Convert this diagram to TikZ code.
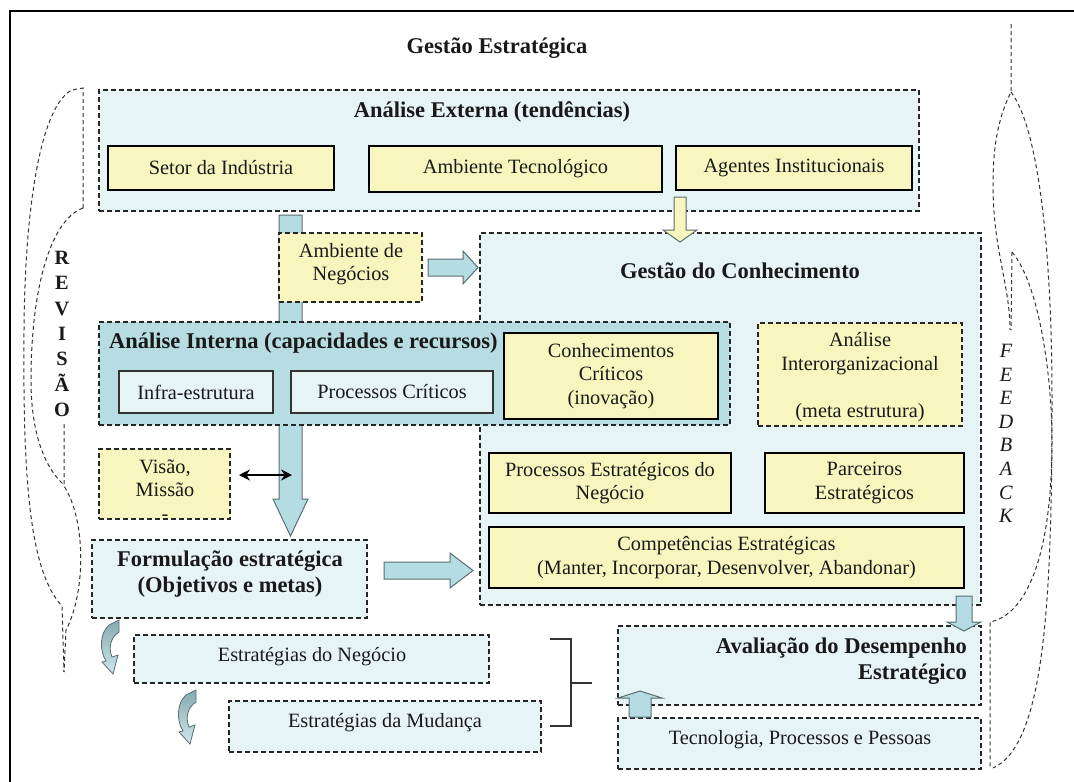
\documentclass[tikz,border=0pt]{standalone}
\usepackage{fontspec}
\setmainfont{Liberation Serif}
\usetikzlibrary{arrows.meta}
\definecolor{cyanL}{HTML}{E7F4F6}
\definecolor{cyanD}{HTML}{B7DDE3}
\definecolor{ylw}{HTML}{F8F6BE}
\definecolor{arrf}{HTML}{B5DCE2}
\definecolor{arrd}{HTML}{5A6E72}
\definecolor{cvT}{HTML}{86A9B0}
\definecolor{cvB}{HTML}{CDE8EC}
\newcommand\myfs{\fontsize{20.3}{23.5}\selectfont}
\newcommand\myfb{\fontsize{22.5}{26}\selectfont\bfseries}
\tikzset{
  every node/.style={inner sep=0pt, align=center, font=\myfs, text=black!90},
  dsh/.style={dash pattern=on 5pt off 3pt, line width=1.1pt},
  lbox/.style={dsh, draw=black!85, fill=cyanL},
  dbox/.style={dsh, draw=black!85, fill=cyanD},
  ybox/.style={dsh, draw=black!85, fill=ylw},
  sbox/.style={draw=black, line width=2.4pt, fill=ylw},
  gbox/.style={draw=black!80, line width=1.2pt, fill=cyanL},
  barrow/.style={draw=arrd, line width=1pt, fill=arrf},
  yarrow/.style={draw=arrd, line width=1pt, fill=ylw},
  curl/.style={dash pattern=on 4pt off 3pt, line width=1pt, draw=black!80},
  curvarr/.style={top color=cvT, bottom color=cvB, draw=arrd, line width=0.8pt},
  brk/.style={draw=black!80, line width=1.4pt},
}
\begin{document}
\begin{tikzpicture}[x=1pt,y=-1pt]
\useasboundingbox (0,0) rectangle (1074,782);
\fill[white] (0,0) rectangle (1074,782);
% frame
\draw[line width=2.6pt] (10,782) -- (10,11) -- (1074,11);
\node[font=\myfb] (title) at (497,48) {Gestão Estratégica};

% Analise Externa
\node[lbox, minimum width=820pt, minimum height=121pt] (ae) at (509,150.5) {};
\node[font=\myfb] (aet) at (492,112) {Análise Externa (tendências)};
\node[sbox, minimum width=226pt, minimum height=44pt] (setor) at (221,168) {Setor da Indústria};
\node[sbox, minimum width=293pt, minimum height=46pt] (amb) at (515.5,169) {Ambiente Tecnológico};
\node[sbox, minimum width=236pt, minimum height=44pt] (age) at (794,168) {Agentes Institucionais};

% Gestao do Conhecimento
\node[lbox, minimum width=501pt, minimum height=372pt] (gc) at (730.5,419) {};
\node[font=\myfb] (gct) at (740,271) {Gestão do Conhecimento};

% big vertical arrow
\draw[barrow] (279,215) -- (302,215) -- (302,499) -- (308,499) -- (290.5,536) -- (273,499) -- (279,499) -- cycle;

% Ambiente de Negocios
\node[ybox, minimum width=143pt, minimum height=69pt] (an) at (350.5,267.5) {};
\node (ant) at (351,264) {Ambiente de\\Negócios};
\draw[barrow] (428,259) -- (463,259) -- (463,251) -- (478,267.5) -- (463,284) -- (463,276) -- (428,276) -- cycle;

% Analise Interna
\node[dbox, minimum width=631pt, minimum height=103pt] (ai) at (414.5,373.5) {};
\node[font=\myfb, anchor=west] (ait) at (109,343) {Análise Interna (capacidades e recursos)};
\node[gbox, minimum width=154pt, minimum height=42pt] (infra) at (196,392) {Infra-estrutura};
\node[gbox, minimum width=202pt, minimum height=42pt] (pc) at (392,392) {Processos Críticos};
\node[sbox, minimum width=214pt, minimum height=86pt] (cc) at (611,376) {Conhecimentos\\Críticos\\(inovação)};

% Analise Interorganizacional
\node[ybox, minimum width=204pt, minimum height=103pt] (aio) at (860,374.5) {};
\node (aiot) at (860,377) {Análise\\Interorganizacional\\[23.5pt](meta estrutura)};

\node[sbox, minimum width=242pt, minimum height=60pt] (pen) at (610,483) {Processos Estratégicos do\\Negócio};
\node[sbox, minimum width=199pt, minimum height=60pt] (parc) at (864.5,483) {Parceiros\\Estratégicos};
\node[sbox, minimum width=475pt, minimum height=61pt] (comp) at (726.5,557.5) {Competências Estratégicas\\(Manter, Incorporar, Desenvolver, Abandonar)};

% yellow arrow down
\draw[yarrow] (674,197) -- (686,197) -- (686,230) -- (697,230) -- (680,242) -- (663,230) -- (674,230) -- cycle;

% Visao
\node[ybox, minimum width=131pt, minimum height=70pt] (vis) at (164.5,484) {};
\node (vist) at (165,490) {Visão,\\Missão\\-};
\coordinate (va) at (239,475);
\coordinate (vb) at (292,475);
\draw[line width=1.6pt, {Stealth[length=11pt,width=11pt]}-{Stealth[length=11pt,width=11pt]}] (va) -- (vb);

% Formulacao
\node[lbox, minimum width=275pt, minimum height=78pt] (form) at (229.5,579) {};
\node[font=\myfb] (formt) at (230,574) {Formulação estratégica\\(Objetivos e metas)};
\draw[barrow] (384,562) -- (450,562) -- (450,553) -- (473,570.5) -- (450,588) -- (450,579) -- (384,579) -- cycle;

% Estrategias
\node[lbox, minimum width=355pt, minimum height=48pt] (en) at (311.5,659) {};
\node (ent) at (312,657) {Estratégias do Negócio};
\node[lbox, minimum width=312pt, minimum height=51pt] (em) at (385,726.5) {};
\node (emt) at (385,723) {Estratégias da Mudança};

% curved arrows
\shadedraw[curvarr] (109,625) -- (119,620) -- (119,632) .. controls (111,637) and (108,647) .. (112,657) -- (118,655) -- (113,674) -- (102,662) -- (106,661) .. controls (99,650) and (100,633) .. (109,625) -- cycle;
\begin{scope}[shift={(77,70)}]
\shadedraw[curvarr] (109,625) -- (119,620) -- (119,632) .. controls (111,637) and (108,647) .. (112,657) -- (118,655) -- (113,674) -- (102,662) -- (106,661) .. controls (99,650) and (100,633) .. (109,625) -- cycle;
\end{scope}

% bracket
\coordinate (b1) at (550,639);
\coordinate (b2) at (571,639);
\coordinate (b3) at (571,726);
\coordinate (b4) at (550,726);
\coordinate (b5) at (571,683);
\coordinate (b6) at (592,683);
\draw[brk] (b1) -- (b2) -- (b3) -- (b4);
\draw[brk] (b5) -- (b6);

% Avaliacao
\node[lbox, minimum width=363pt, minimum height=79pt] (aval) at (799.5,665.5) {};
\node[font=\myfb, anchor=east, align=right] (avalt) at (967,661) {Avaliação do Desempenho\\Estratégico};
\node[lbox, minimum width=363pt, minimum height=51pt] (tec) at (799.5,743.5) {};
\node (tect) at (800,740) {Tecnologia, Processos e Pessoas};
\draw[barrow] (956,596) -- (972,596) -- (972,622) -- (981,622) -- (964,631) -- (947,622) -- (956,622) -- cycle;
\draw[barrow] (629,717) -- (629,698) -- (618,698) -- (640,691) -- (662,698) -- (651,698) -- (651,717) -- cycle;

% REVISAO
\node[font=\fontsize{20.3}{25.3}\selectfont\bfseries] (rev) at (62,334) {R\\E\\V\\I\\S\\Ã\\O};
\draw[curl] (83,208) -- (83,88) -- (72,90) .. controls (42,105) and (25,200) .. (24,330) .. controls (23,470) and (28,570) .. (62,606) -- (64,672);
\draw[curl] (83,208) .. controls (50,220) and (31,290) .. (31,380) .. controls (31,440) and (48,470) .. (63,484);
\draw[curl] (64,424) -- (64,486) .. controls (86,520) and (86,592) .. (66,630) -- (64,672);

% FEEDBACK
\node[font=\fontsize{20.3}{23.6}\selectfont\itshape] (fb) at (1006,433.5) {F\\E\\E\\D\\B\\A\\C\\K};
\draw[curl] (1011,24) -- (1011,92) .. controls (997,120) and (993,150) .. (993,185) .. controls (993,250) and (1010,285) .. (1010,330);
\draw[curl] (1011,92) .. controls (1040,130) and (1052,260) .. (1052,400) .. controls (1052,600) and (1045,745) .. (993,768);
\draw[curl] (1012,252) -- (1011,330);
\draw[curl] (1012,252) .. controls (1040,285) and (1052,380) .. (1052,440) .. controls (1052,560) and (1025,615) .. (990,622) -- (990,768);
\end{tikzpicture}
\end{document}
